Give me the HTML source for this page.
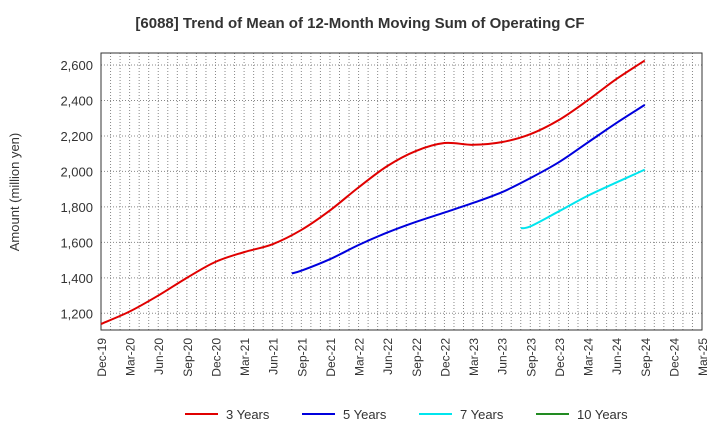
<!DOCTYPE html>
<html><head><meta charset="utf-8"><style>
body{margin:0;background:#fff;font-family:"Liberation Sans",sans-serif}
svg text{font-family:"Liberation Sans",sans-serif;fill:#333}
</style></head><body>
<svg id="c" width="720" height="440" xmlns="http://www.w3.org/2000/svg">
<text x="360" y="28" text-anchor="middle" font-size="15" font-weight="bold">[6088]  Trend of Mean of 12-Month Moving Sum of Operating CF</text>
<g id="grid"></g><g id="axes"></g><g id="series"></g><g id="legend"></g>
</svg>
<script>
const xLabels=["Dec-19","Mar-20","Jun-20","Sep-20","Dec-20","Mar-21","Jun-21","Sep-21","Dec-21","Mar-22","Jun-22","Sep-22","Dec-22","Mar-23","Jun-23","Sep-23","Dec-23","Mar-24","Jun-24","Sep-24","Dec-24","Mar-25"];
const yTicks=[1200,1400,1600,1800,2000,2200,2400,2600];
// month index: Dec-19 = 0
const s3Months=[0,3,6,9,12,15,18,21,24,27,30,33,36,39,42,45,48,51,54,57];
const s3=[1140,1210,1300,1400,1490,1545,1590,1670,1780,1910,2030,2115,2160,2150,2165,2210,2290,2400,2520,2625];
const s5Months=[20,21,24,27,30,33,36,39,42,45,48,51,54,57];
const s5=[1425,1440,1505,1585,1655,1715,1768,1822,1882,1962,2052,2162,2272,2375];
const s7Months=[44,45,48,51,54,57];
const s7=[1680,1690,1775,1862,1937,2010];
const s10Months=[];
const s10=[];
const L=101,R=702,T=53,B=330;
const NS="http://www.w3.org/2000/svg";
const nMonths=(xLabels.length-1)*3;
const xm=m=>L+m*(R-L)/nMonths;
const xq=i=>xm(i*3);
const y=v=>313.3-(v-1200)*(313.3-65)/1400;
function mk(tag,attrs,parent){const e=document.createElementNS(NS,tag);for(const k in attrs)e.setAttribute(k,attrs[k]);parent.appendChild(e);return e;}
const g=document.getElementById('grid'),ax=document.getElementById('axes'),se=document.getElementById('series'),lg=document.getElementById('legend');
for(let m=1;m<nMonths;m++){const x=xm(m);
const l=mk('line',{x1:x,x2:x,y1:T,y2:B,stroke:'#888','stroke-dasharray':'1,2','stroke-width':1},g);

}
yTicks.forEach(v=>{const l=mk('line',{x1:L,x2:R,y1:y(v),y2:y(v),stroke:'#888','stroke-dasharray':'1,2'},g);


const t=mk('text',{x:L-8,y:y(v)+5,'text-anchor':'end','font-size':13},ax);t.textContent=v.toLocaleString('en-US');

});
const fr=mk('rect',{x:L,y:T,width:R-L,height:B-T,fill:'none',stroke:'#333'},ax);


xLabels.forEach((s,i)=>{const t=mk('text',{transform:`translate(${xq(i)+5},${B+8}) rotate(-90)`,'text-anchor':'end','font-size':12},ax);t.textContent=s;

});
const yt=mk('text',{transform:'translate(19,192) rotate(-90)','text-anchor':'middle','font-size':13},ax);yt.textContent='Amount (million yen)';


function path(arr,months){const p=arr.map((v,i)=>[xm(months[i]),y(v)]);if(p.length<2)return '';let d=`M${p[0][0]},${p[0][1]}`;
for(let i=0;i<p.length-1;i++){const p0=p[i-1]||p[i],p1=p[i],p2=p[i+1],p3=p[i+2]||p2;
d+=` C${p1[0]+(p2[0]-p0[0])/6},${p1[1]+(p2[1]-p0[1])/6} ${p2[0]-(p3[0]-p1[0])/6},${p2[1]-(p3[1]-p1[1])/6} ${p2[0]},${p2[1]}`;}return d;}
[[s3,s3Months,'#e00000','series-3-years'],[s5,s5Months,'#0000dd','series-5-years'],[s7,s7Months,'#00e5ee','series-7-years'],[s10,s10Months,'#228b22','series-10-years']].forEach(([a,ms,c,n])=>{
const d=path(a,ms);if(!d)return;const p=mk('path',{d,fill:'none',stroke:c,'stroke-width':2},se);

});
[['3 Years','#e00000',185],['5 Years','#0000dd',302],['7 Years','#00e5ee',419],['10 Years','#228b22',536]].forEach(([s,c,x])=>{
const l=mk('line',{x1:x,x2:x+33,y1:414,y2:414,stroke:c,'stroke-width':2},lg);


const t=mk('text',{x:x+41,y:419,'font-size':13},lg);t.textContent=s;

});
</script>
</body></html>
